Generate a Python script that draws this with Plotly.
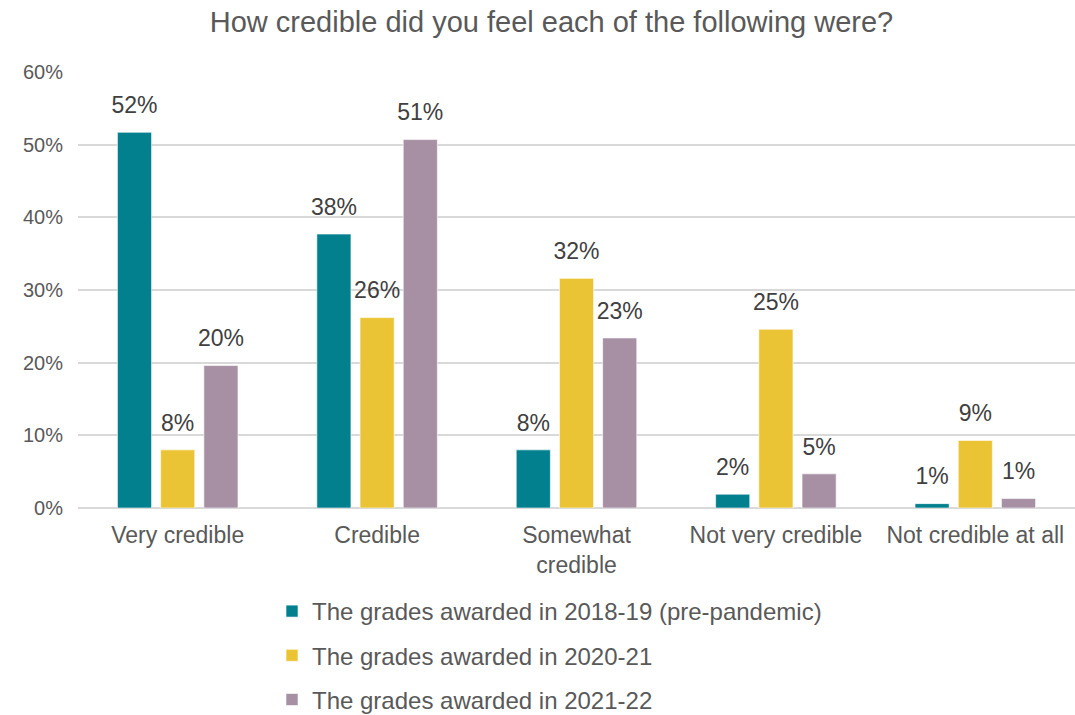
import plotly.graph_objects as go

# Survey responses: share of respondents per credibility rating
categories = ["Very credible", "Credible", "Somewhat<br>credible",
              "Not very credible", "Not credible at all"]

series_names = [
    "The grades awarded in 2018-19 (pre-pandemic)",
    "The grades awarded in 2020-21",
    "The grades awarded in 2021-22",
]

grades_2018_19 = [0.517, 0.377, 0.080, 0.019, 0.006]
grades_2020_21 = [0.080, 0.262, 0.316, 0.246, 0.093]
grades_2021_22 = [0.196, 0.507, 0.234, 0.047, 0.013]

series_values = [grades_2018_19, grades_2020_21, grades_2021_22]
series_colors = ["#02808E", "#EBC435", "#A78FA4"]

y_ticks = [0, 0.1, 0.2, 0.3, 0.4, 0.5, 0.6]
y_tick_labels = ["0%", "10%", "20%", "30%", "40%", "50%", "60%"]

font_family = "Liberation Sans, Arial, sans-serif"

fig = go.Figure()
for i, (name, values, color) in enumerate(zip(series_names, series_values, series_colors)):
    fig.add_trace(go.Bar(
        x=categories,
        y=values,
        name=name,
        legendgroup=f"g{i}",
        marker=dict(color=color, line=dict(color="rgba(255,255,255,0.6)", width=1)),
        # value label in a larger span; the short blank line under it
        # (sized by the small base font) lifts it clear of the bar top
        texttemplate="<span style='font-size:23px'>%{y:.0%}</span><br> ",
        textposition="outside",
        textfont=dict(family=font_family, size=11, color="#404040"),
        constraintext="none",
        cliponaxis=False,
    ))

fig.update_layout(
    width=1075,
    height=715,
    paper_bgcolor="white",
    plot_bgcolor="white",
    barmode="group",
    bargap=0.35,
    bargroupgap=0.21,
    margin=dict(l=78, r=0, t=72, b=207, autoexpand=False),
    font=dict(family=font_family, color="#595959"),
    title=dict(
        text="How credible did you feel each of the following were?",
        x=0.513, xanchor="center", xref="container",
        y=0.97, yanchor="middle", yref="container",
        font=dict(family=font_family, size=29, color="#595959"),
    ),
    xaxis=dict(
        tickfont=dict(family=font_family, size=23, color="#595959"),
        tickangle=0,
        showgrid=False,
        showline=False,
        ticks="",
        ticklabelstandoff=11,
    ),
    yaxis=dict(
        range=[0, 0.6],
        tickvals=y_ticks,
        ticktext=y_tick_labels,
        tickfont=dict(family=font_family, size=20, color="#595959"),
        gridcolor="#D9D9D9",
        gridwidth=1.5,
        zeroline=True,
        zerolinecolor="#D9D9D9",
        zerolinewidth=1.5,
        showline=False,
        ticks="",
        ticklabelstandoff=14,
    ),
    legend=dict(
        orientation="v",
        x=(272 - 78) / 997, xanchor="left",
        y=-(589 - 508) / 436, yanchor="top",
        font=dict(family=font_family, size=24, color="#595959"),
        tracegroupgap=10,
        itemwidth=30,
        bgcolor="rgba(0,0,0,0)",
    ),
    showlegend=True,
)

fig.write_html("out.html")
